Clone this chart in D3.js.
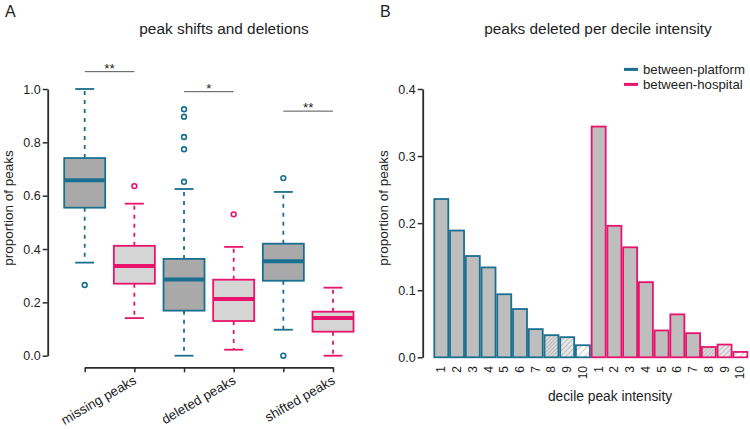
<!DOCTYPE html>
<html>
<head>
<meta charset="utf-8">
<script src="https://cdn.jsdelivr.net/npm/d3@7"></script>
<style>
  body { margin: 0; background: #fff; }
  svg { display: block; font-family: "Liberation Sans", Arial, sans-serif; }
</style>
</head>
<body>
<svg id="chart" width="750" height="429"></svg>
<script>
// ---------- DATA ----------
const boxCategories = ["missing peaks", "deleted peaks", "shifted peaks"];
const seriesNames = ["between-platform", "between-hospital"];
// [lowerWhisker, Q1, median, Q3, upperWhisker]
const platformBoxes = [
  [0.349, 0.555, 0.658, 0.741, 1.0],
  [0.0, 0.169, 0.286, 0.363, 0.625],
  [0.0975, 0.281, 0.354, 0.42, 0.614]
];
const hospitalBoxes = [
  [0.141, 0.27, 0.336, 0.412, 0.57],
  [0.0225, 0.13, 0.213, 0.285, 0.408],
  [0.0, 0.09, 0.141, 0.165, 0.255]
];
const platformOutliers = [[0.265], [0.924, 0.896, 0.82, 0.774, 0.652], [0.666, 0.0]];
const hospitalOutliers = [[0.636], [0.530], []];
const significance = ["**", "*", "**"];
const boxTicks = [0, 0.2, 0.4, 0.6, 0.8, 1.0];

const deciles = ["1","2","3","4","5","6","7","8","9","10"];
const platformDeleted = [0.236, 0.189, 0.151, 0.134, 0.094, 0.072, 0.042, 0.033, 0.030, 0.018];
const hospitalDeleted = [0.344, 0.196, 0.164, 0.112, 0.040, 0.064, 0.036, 0.0154, 0.019, 0.008];
const barTicks = [0, 0.1, 0.2, 0.3, 0.4];

// ---------- STYLE ----------
const BLUE = "#1b6f90", PINK = "#e8146c";
const seriesColor = [BLUE, PINK];
const boxFill = ["#a9a9a9", "#d5d5d5"];
const AXIS = "#2b2b2b", TXT = "#222";

const svg = d3.select("#chart");

// defs: hatch patterns
const defs = svg.append("defs");
function hatch(id, spacing, bg) {
  const p = defs.append("pattern").attr("id", id).attr("patternUnits", "userSpaceOnUse")
    .attr("width", spacing).attr("height", spacing).attr("patternTransform", "rotate(45)");
  p.append("rect").attr("width", spacing).attr("height", spacing).attr("fill", bg);
  p.append("line").attr("x1", 0).attr("y1", 0).attr("x2", 0).attr("y2", spacing)
    .attr("stroke", "#a8a8a8").attr("stroke-width", 1.2);
}
hatch("h8", 2.6, "#d8d8d8");
hatch("h9", 3.6, "#e6e6e6");
hatch("h10", 5, "#ffffff");
function barFill(i) {
  if (i < 7) return "#bebebe";
  return ["url(#h8)", "url(#h9)", "url(#h10)"][i - 7];
}

// ---------- PANEL A ----------
const yA = d3.scaleLinear().domain([0, 1]).range([355.7, 89]);
const slots = [];
boxCategories.forEach(c => seriesNames.forEach(s => slots.push(c + "|" + s)));
const xA = d3.scalePoint().domain(slots).range([84.7, 333]);

svg.append("text").attr("x", 5).attr("y", 17).attr("font-size", 16).attr("fill", TXT).text("A");
svg.append("text").attr("x", 224).attr("y", 34).attr("text-anchor", "middle")
  .attr("font-size", 15.4).attr("fill", TXT).text("peak shifts and deletions");

// y axis
const yAxisA = svg.append("g").attr("transform", "translate(47.7,0)")
  .call(d3.axisLeft(yA).tickValues(boxTicks).tickFormat(d3.format(".1f")).tickSize(5).tickSizeOuter(0));
yAxisA.select(".domain").attr("stroke", AXIS).attr("stroke-width", 1.8);
yAxisA.selectAll(".tick line").attr("stroke", AXIS).attr("stroke-width", 1.5);
yAxisA.selectAll(".tick text").attr("font-size", 12.5).attr("fill", TXT).attr("font-family", "Liberation Sans, Arial, sans-serif").attr("x", -7);

svg.append("text").attr("transform", "translate(12.5,208) rotate(-90)").attr("text-anchor", "middle")
  .attr("font-size", 13.5).attr("fill", TXT).text("proportion of peaks");

// x axis
const xAxisA = svg.append("g").attr("transform", "translate(0,367.3)")
  .call(d3.axisBottom(xA).tickSize(5).tickSizeOuter(0).tickFormat(""));
xAxisA.select(".domain").attr("stroke", AXIS).attr("stroke-width", 1.8);
xAxisA.selectAll(".tick line").attr("stroke", AXIS).attr("stroke-width", 1.5);

boxCategories.forEach((c, i) => {
  const x = xA(c + "|" + seriesNames[1]) + 3;
  svg.append("text").attr("transform", `translate(${x},383) rotate(-30)`)
    .attr("text-anchor", "end").attr("font-size", 13.3).attr("fill", TXT).text(c);
});

// boxes
const boxW = 41, capW = 19;
[platformBoxes, hospitalBoxes].forEach((boxes, si) => {
  const col = seriesColor[si];
  boxes.forEach((b, ci) => {
    const cx = xA(boxCategories[ci] + "|" + seriesNames[si]);
    const [lo, q1, med, q3, hi] = b;
    const g = svg.append("g");
    g.append("line").attr("x1", cx).attr("x2", cx).attr("y1", yA(q3)).attr("y2", yA(hi))
      .attr("stroke", col).attr("stroke-width", 1.8).attr("stroke-dasharray", "4,5");
    g.append("line").attr("x1", cx).attr("x2", cx).attr("y1", yA(q1)).attr("y2", yA(lo))
      .attr("stroke", col).attr("stroke-width", 1.8).attr("stroke-dasharray", "4,5");
    [lo, hi].forEach(v => g.append("line").attr("x1", cx - capW / 2).attr("x2", cx + capW / 2)
      .attr("y1", yA(v)).attr("y2", yA(v)).attr("stroke", col).attr("stroke-width", 1.8));
    g.append("rect").attr("x", cx - boxW / 2).attr("width", boxW)
      .attr("y", yA(q3)).attr("height", yA(q1) - yA(q3))
      .attr("fill", boxFill[si]).attr("stroke", col).attr("stroke-width", 1.8);
    g.append("line").attr("x1", cx - boxW / 2).attr("x2", cx + boxW / 2)
      .attr("y1", yA(med)).attr("y2", yA(med)).attr("stroke", col).attr("stroke-width", 4);
  });
});
[platformOutliers, hospitalOutliers].forEach((outs, si) => {
  outs.forEach((arr, ci) => {
    const cx = xA(boxCategories[ci] + "|" + seriesNames[si]);
    arr.forEach(v => svg.append("circle").attr("cx", cx).attr("cy", yA(v)).attr("r", 2.4)
      .attr("fill", "#fff").attr("stroke", seriesColor[si]).attr("stroke-width", 1.6));
  });
});

// significance
const sigY = [1.065, 0.99, 0.917];
boxCategories.forEach((c, i) => {
  const x1 = xA(c + "|" + seriesNames[0]), x2 = xA(c + "|" + seriesNames[1]);
  const y = yA(sigY[i]);
  svg.append("line").attr("x1", x1).attr("x2", x2).attr("y1", y).attr("y2", y)
    .attr("stroke", "#555").attr("stroke-width", 1);
  svg.append("text").attr("x", (x1 + x2) / 2).attr("y", y + 1).attr("text-anchor", "middle")
    .attr("font-size", 13.5).attr("fill", TXT).text(significance[i]);
});

// ---------- PANEL B ----------
const barKeys = [];
seriesNames.forEach(s => deciles.forEach(d => barKeys.push(s + "|" + d)));
const xB = d3.scaleBand().domain(barKeys).range([434.3, 747.3]).paddingInner(0.11).paddingOuter(0);
const yB = d3.scaleLinear().domain([0, 0.4]).range([357.3, 89]);

svg.append("text").attr("x", 380).attr("y", 17).attr("font-size", 16).attr("fill", TXT).text("B");
svg.append("text").attr("x", 598).attr("y", 34).attr("text-anchor", "middle")
  .attr("font-size", 15.4).attr("fill", TXT).text("peaks deleted per decile intensity");

const yAxisB = svg.append("g").attr("transform", "translate(422.7,0)")
  .call(d3.axisLeft(yB).tickValues(barTicks).tickFormat(d3.format(".1f")).tickSize(5).tickSizeOuter(0));
yAxisB.select(".domain").attr("stroke", AXIS).attr("stroke-width", 1.8);
yAxisB.selectAll(".tick line").attr("stroke", AXIS).attr("stroke-width", 1.5);
yAxisB.selectAll(".tick text").attr("font-size", 12.5).attr("fill", TXT).attr("font-family", "Liberation Sans, Arial, sans-serif").attr("x", -7);

svg.append("text").attr("transform", "translate(387.5,208) rotate(-90)").attr("text-anchor", "middle")
  .attr("font-size", 13.5).attr("fill", TXT).text("proportion of peaks");

[platformDeleted, hospitalDeleted].forEach((vals, si) => {
  vals.forEach((v, i) => {
    const k = seriesNames[si] + "|" + deciles[i];
    svg.append("rect").attr("x", xB(k)).attr("width", xB.bandwidth())
      .attr("y", yB(v)).attr("height", yB(0) - yB(v))
      .attr("fill", barFill(i)).attr("stroke", seriesColor[si]).attr("stroke-width", 1.8);
    svg.append("text")
      .attr("transform", `translate(${xB(k) + xB.bandwidth() / 2 + 4},366) rotate(-90)`)
      .attr("text-anchor", "end").attr("font-size", 12).attr("fill", TXT).text(deciles[i]);
  });
});

svg.append("text").attr("x", 610).attr("y", 401).attr("text-anchor", "middle")
  .attr("font-size", 13.8).attr("fill", TXT).text("decile peak intensity");

// legend
seriesNames.forEach((s, i) => {
  const y = 69.4 + i * 15;
  svg.append("line").attr("x1", 624).attr("x2", 638).attr("y1", y).attr("y2", y)
    .attr("stroke", seriesColor[i]).attr("stroke-width", 3);
  svg.append("text").attr("x", 643).attr("y", y + 4.6).attr("font-size", 13.2)
    .attr("fill", TXT).text(s);
});
</script>
</body>
</html>
